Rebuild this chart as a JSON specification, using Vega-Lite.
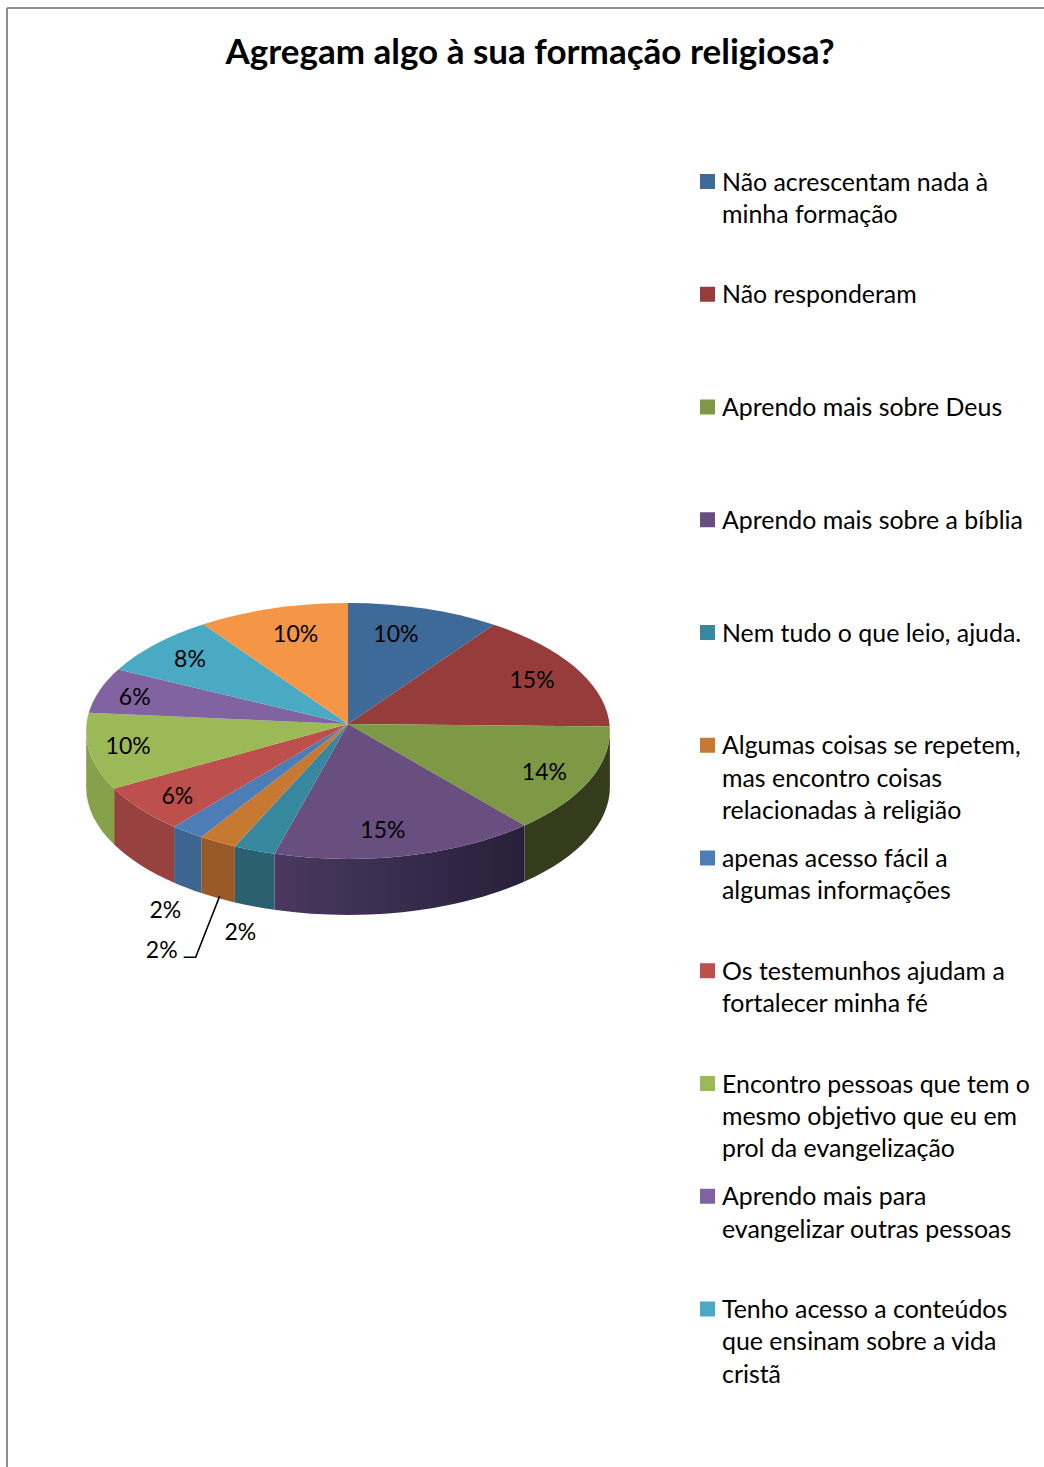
{"$schema":"https://vega.github.io/schema/vega-lite/v6.json","width":1044,"height":1467,"autosize":"none","padding":0,"background":"white","view":{"stroke":null},"config":{"view":{"stroke":null},"font":"Lato"},
"title":{"text":"Agregam algo à sua formação religiosa?","font":"Lato","fontWeight":"bold","fontSize":35,"color":"black","anchor":"middle","offset":-71,"dx":8},
"data":{"values":[
{"rank":1,"category":"Não acrescentam nada à\nminha formação","share":9.9},
{"rank":2,"category":"Não responderam","share":15.4},
{"rank":3,"category":"Aprendo mais sobre Deus","share":13.5},
{"rank":4,"category":"Aprendo mais sobre a bíblia","share":15.49},
{"rank":5,"category":"Nem tudo o que leio, ajuda.","share":2.45},
{"rank":6,"category":"Algumas coisas se repetem,\nmas encontro coisas\nrelacionadas à religião","share":2.25},
{"rank":7,"category":"apenas acesso fácil a\nalgumas informações","share":2.0},
{"rank":8,"category":"Os testemunhos ajudam a\nfortalecer minha fé","share":5.81},
{"rank":9,"category":"Encontro pessoas que tem o\nmesmo objetivo que eu em\nprol da evangelização","share":9.6},
{"rank":10,"category":"Aprendo mais para\nevangelizar outras pessoas","share":5.8},
{"rank":11,"category":"Tenho acesso a conteúdos\nque ensinam sobre a vida\ncristã","share":8.0},
{"rank":12,"category":"","share":9.8}
]},
"transform":[
{"window":[{"op":"sum","field":"share","as":"cum"}],"sort":[{"field":"rank","order":"ascending"}]},
{"calculate":"(datum.cum-datum.share)*PI/50","as":"a0"},
{"calculate":"datum.cum*PI/50","as":"a1"}
],
"layer":[
{"data":{"values":[{"frame":"left"}]},"transform":[],"mark":{"type":"rule","color":"#8E8E8E","strokeWidth":2},"encoding":{"x":{"value":7},"y":{"value":8},"y2":{"value":1467}}},
{"data":{"values":[{"frame":"top"}]},"transform":[],"mark":{"type":"rule","color":"#8E8E8E","strokeWidth":2},"encoding":{"y":{"value":8},"x":{"value":7},"x2":{"value":1044}}},
{"transform":[
{"calculate":"max(datum.a0,1.62)","as":"wa"},{"calculate":"min(datum.a1,4.68)","as":"wb"},{"filter":"datum.wb>datum.wa && datum.rank!=4"},
{"calculate":"round(100*261.5*sin(datum.wa)/(1+0.0547*cos(datum.wa)))/100","as":"xa"},
{"calculate":"round(-100*127.6*cos(datum.wa)/(1+0.0547*cos(datum.wa)))/100","as":"ya"},
{"calculate":"round(100*261.5*sin(datum.wb)/(1+0.0547*cos(datum.wb)))/100","as":"xb"},
{"calculate":"round(-100*127.6*cos(datum.wb)/(1+0.0547*cos(datum.wb)))/100","as":"yb"},
{"calculate":"'M'+datum.xa+','+datum.ya+'A261.5,128,0,0,1,'+datum.xb+','+datum.yb+'L'+datum.xb+','+(datum.yb+56)+'A261.5,128,0,0,0,'+datum.xa+','+(datum.ya+56)+'Z'","as":"wall"}
],"mark":{"type":"point","filled":true,"opacity":1,"size":4,"strokeWidth":0},"encoding":{"x":{"value":348},"y":{"value":724},"shape":{"field":"wall","type":"nominal","scale":null,"legend":null},"fill":{"field":"rank","type":"nominal","legend":null,"scale":{"domain":[3,5,6,7,8,9],"range":["#343C1C","#2A6070","#995A28","#3D6592","#984240","#87A14B"]}}}},
{"transform":[
{"filter":"datum.rank==4"},
{"calculate":"round(100*261.5*sin(datum.a0)/(1+0.0547*cos(datum.a0)))/100","as":"xa"},
{"calculate":"round(-100*127.6*cos(datum.a0)/(1+0.0547*cos(datum.a0)))/100","as":"ya"},
{"calculate":"round(100*261.5*sin(datum.a1)/(1+0.0547*cos(datum.a1)))/100","as":"xb"},
{"calculate":"round(-100*127.6*cos(datum.a1)/(1+0.0547*cos(datum.a1)))/100","as":"yb"},
{"calculate":"'M'+datum.xa+','+datum.ya+'A261.5,128,0,0,1,'+datum.xb+','+datum.yb+'L'+datum.xb+','+(datum.yb+56)+'A261.5,128,0,0,0,'+datum.xa+','+(datum.ya+56)+'Z'","as":"wall"}
],"mark":{"type":"point","opacity":1,"size":4,"strokeWidth":0,"fill":{"gradient":"linear","x1":0,"x2":1,"y1":0,"y2":0,"stops":[{"offset":0,"color":"#4A3860"},{"offset":1,"color":"#27203A"}]}},"encoding":{"x":{"value":348},"y":{"value":724},"shape":{"field":"wall","type":"nominal","scale":null,"legend":null}}},
{"transform":[
{"calculate":"round(100*261.5*sin(datum.a0)/(1+0.0547*cos(datum.a0)))/100","as":"x0"},
{"calculate":"round(-100*127.6*cos(datum.a0)/(1+0.0547*cos(datum.a0)))/100","as":"y0"},
{"calculate":"round(100*261.5*sin(datum.a1)/(1+0.0547*cos(datum.a1)))/100","as":"x1"},
{"calculate":"round(-100*127.6*cos(datum.a1)/(1+0.0547*cos(datum.a1)))/100","as":"y1"},
{"calculate":"'M0,0L'+datum.x0+','+datum.y0+'A261.5,128,0,0,1,'+datum.x1+','+datum.y1+'Z'","as":"wedge"}
],"mark":{"type":"point","filled":true,"opacity":1,"size":4,"strokeWidth":0},"encoding":{"x":{"value":348},"y":{"value":724},"shape":{"field":"wedge","type":"nominal","scale":null,"legend":null},"color":{"field":"rank","type":"nominal","legend":null,"scale":{"domain":[1,2,3,4,5,6,7,8,9,10,11,12],"range":["#3E6A9A","#963D3C","#7E9945","#684F80","#37879F","#C77932","#4D7DB7","#BD4F4C","#9BBA57","#8063A0","#4AAAC4","#F49645"]}}}},
{"transform":[
{"calculate":"(datum.a0+datum.a1)/2","as":"mid"},
{"calculate":"348+261*[0.6,0.789,0.833,0.62,1.214,1.505,1.192,0.853,0.862,0.848,0.794,0.662][datum.rank-1]*sin(datum.mid)","as":"lx"},
{"calculate":"725-127.6*[0.741,0.77,0.871,0.849,1.736,2.013,1.802,0.882,0.83,0.807,0.793,0.739][datum.rank-1]*cos(datum.mid)","as":"ly"},
{"calculate":"format(datum.share,'.0f')+'%'","as":"pct"}
],"mark":{"type":"text","font":"Lato","fontSize":23,"color":"black","align":"center","baseline":"middle"},"encoding":{"x":{"field":"lx","type":"quantitative","scale":null,"axis":null},"y":{"field":"ly","type":"quantitative","scale":null,"axis":null},"text":{"field":"pct"}}},
{"transform":[
{"filter":"datum.rank==6"},
{"calculate":"(datum.a0+datum.a1)/2","as":"mid"},
{"calculate":"348+261*1.505*sin(datum.mid)","as":"lx"},
{"calculate":"724-127.6*2.013*cos(datum.mid)","as":"ly"}
],"mark":{"type":"point","filled":false,"opacity":1,"size":4,"stroke":"black","strokeWidth":1.5,"shape":"M58,-54L34,7L22,7"},"encoding":{"x":{"field":"lx","type":"quantitative","scale":null,"axis":null},"y":{"field":"ly","type":"quantitative","scale":null,"axis":null}}},
{"transform":[{"filter":"datum.rank<=11"}],"mark":{"type":"point","shape":"square","filled":true,"opacity":1,"size":225,"strokeWidth":0},"encoding":{"x":{"value":707.5},"y":{"field":"rank","type":"ordinal","axis":null,"scale":{"domain":[1,2,3,4,5,6,7,8,9,10,11],"range":[181.5,1309],"type":"point","padding":0}},"color":{"field":"rank","type":"nominal","legend":null}}},
{"transform":[{"filter":"datum.rank<=11"}],"mark":{"type":"text","font":"Lato","fontSize":24.9,"color":"black","align":"left","baseline":"alphabetic","lineBreak":"\n","lineHeight":32.4,"dy":9},"encoding":{"x":{"value":722},"y":{"field":"rank","type":"ordinal","axis":null},"text":{"field":"category"}}}
]}
